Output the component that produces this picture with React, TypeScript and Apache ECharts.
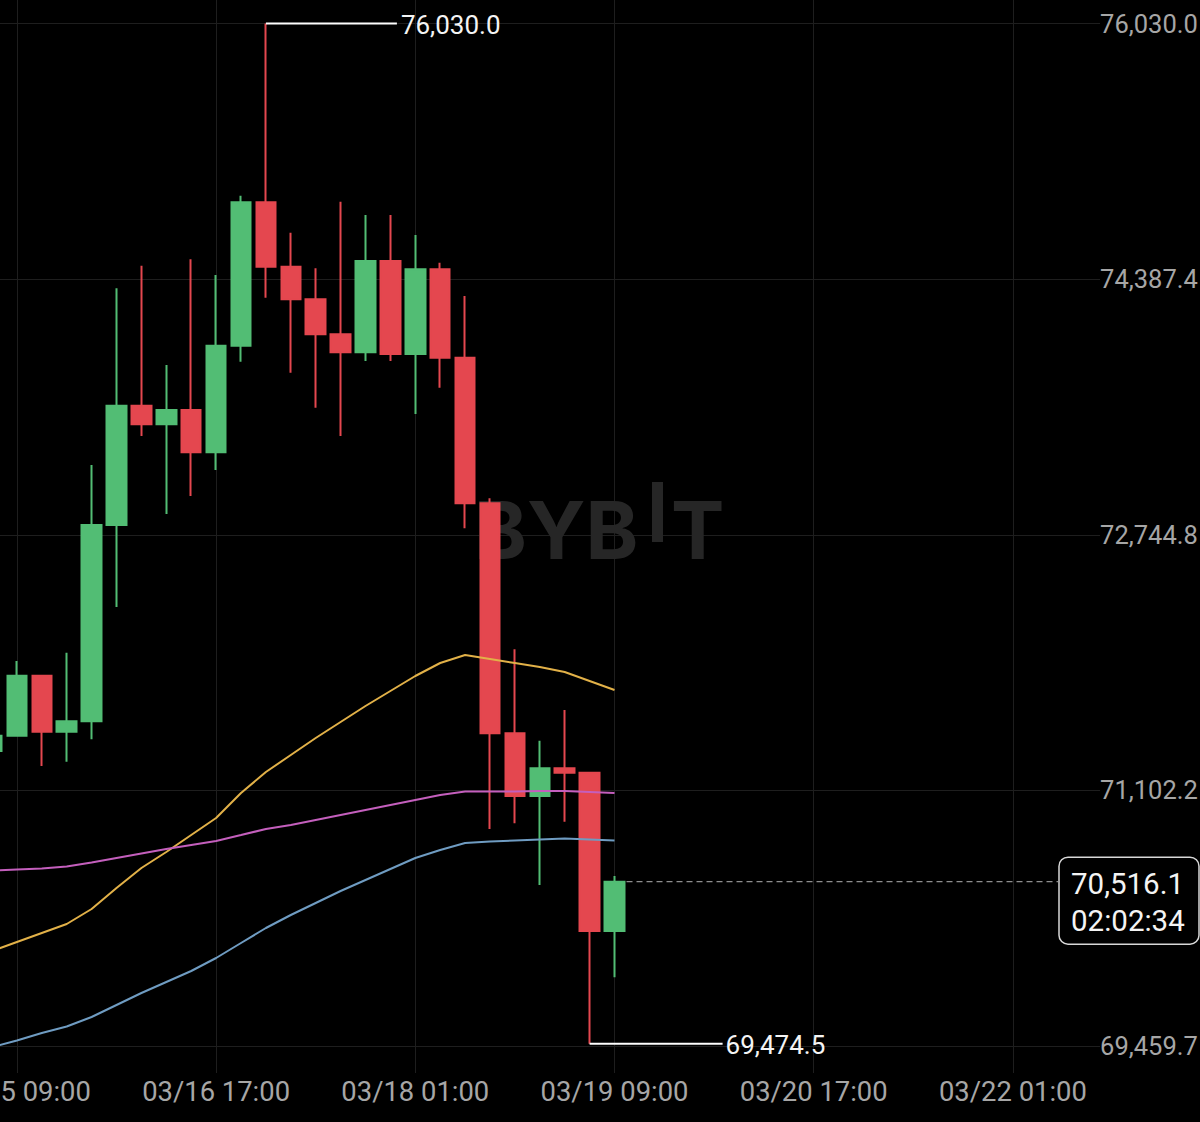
import React, { useEffect, useRef } from "react";
import * as echarts from "echarts";

// ---------- data ----------
const START_UTC = Date.UTC(2024, 2, 15, 5, 0); // first (partly hidden) candle: 03/15 05:00
const CANDLE_HOURS = 4;
const CATEGORY_COUNT = 45;

const opens = [
  71355.8, 71454.1, 71839.6, 71479.8, 71546.6, 72807.9, 73574.4, 73454.9, 73546.7,
  73275.0, 73959.9, 74881.2, 74467.4, 74258.0, 74033.1, 73917.5, 74504.1, 73906.5,
  74450.7, 73882.8, 72947.3, 71469.5, 71066.7, 71244.7, 71216.4, 70199.3,
];
const closes = [
  71454.1, 71839.6, 71479.8, 71546.6, 72807.9, 73574.4, 73454.9, 73546.7, 73275.0,
  73959.9, 74881.2, 74467.4, 74258.0, 74033.1, 73917.5, 74504.1, 73906.5, 74450.7,
  73882.8, 72947.3, 71469.5, 71066.7, 71244.7, 71216.4, 70199.3, 70516.1,
];
const lows = [
  71300.0, 71454.1, 71259.4, 71287.0, 71431.0, 72281.0, 73379.7, 72878.5, 72994.2,
  73161.2, 73857.1, 74268.3, 73786.4, 73561.5, 73379.7, 73861.6, 73861.6, 73521.0,
  73690.0, 72786.7, 70854.7, 70891.3, 70494.9, 70901.6, 69474.5, 69901.8,
];
const highs = [
  71480.0, 71934.0, 71839.6, 71987.4, 73193.4, 74328.7, 74473.9, 73835.9, 74515.0,
  74414.1, 74923.6, 76030.0, 74685.9, 74457.2, 74885.1, 74799.6, 74799.6, 74671.1,
  74493.1, 74279.2, 72979.4, 72009.2, 71422.0, 71619.2, 71216.4, 70552.7,
];

const maYellow = [
  70070.8, 70128.6, 70186.5, 70244.3, 70340.7, 70475.6, 70604.1, 70706.9, 70816.1,
  70925.3, 71086.0, 71220.9, 71330.1, 71439.3, 71542.1, 71644.9, 71741.3, 71837.7,
  71921.2, 71972.6, 71946.9, 71921.2, 71895.5, 71863.4, 71805.6, 71747.7,
];
const maPink = [
  70588.0, 70594.4, 70600.9, 70613.7, 70639.4, 70668.3, 70697.2, 70726.2, 70751.9,
  70777.6, 70816.1, 70854.7, 70880.4, 70912.5, 70944.6, 70976.7, 71008.9, 71041.0,
  71073.1, 71095.6, 71095.6, 71095.6, 71098.8, 71098.8, 71092.4, 71086.0,
];
const maBlue = [
  69454.0, 69495.8, 69544.0, 69585.7, 69646.8, 69723.9, 69801.0, 69871.6, 69942.3,
  70025.8, 70122.2, 70218.6, 70302.1, 70379.2, 70456.3, 70527.0, 70597.7, 70668.3,
  70719.7, 70764.7, 70774.3, 70780.8, 70787.2, 70793.6, 70787.2, 70780.8,
];

const yTicks = [76030.0, 74387.4, 72744.8, 71102.2, 69459.7];
const Y_MIN = 69287.0;
const Y_MAX = 76181.0;
const COUNTDOWN = "02:02:34";
const WATERMARK_LEFT = "BYB";
const WATERMARK_RIGHT = "T";

const pad2 = (n: number) => String(n).padStart(2, "0");
const categories: string[] = [];
for (let k = 0; k < CATEGORY_COUNT; k++) {
  const d = new Date(START_UTC + k * CANDLE_HOURS * 3600e3);
  categories.push(
    `${pad2(d.getUTCMonth() + 1)}/${pad2(d.getUTCDate())} ${pad2(d.getUTCHours())}:00`
  );
}

// ---------- style ----------
const GREEN = "#52bd74";
const RED = "#e4474f";
const YELLOW = "#e2b148";
const PINK = "#c45fbd";
const BLUE = "#6f9cc2";
const GRID = "#1e1e1e";
const AXIS_TEXT = "#a6a6a6";
const FONT = "Roboto";
const WM_FONT = "Inter";

const fmt = (v: number) =>
  Number(v).toLocaleString("en-US", { minimumFractionDigits: 1, maximumFractionDigits: 1 });

const labelEvery = (i: number) => (i - 1) % 8 === 0;

export default function App() {
  const ref = useRef<HTMLDivElement>(null);

  useEffect(() => {
    if (!ref.current) return;
    const chart = echarts.init(ref.current, undefined, { renderer: "svg" });

    const candleData = opens.map((o, i) => [o, closes[i], lows[i], highs[i]]);

    chart.setOption({
      animation: false,
      backgroundColor: "#000000",
      grid: {
        left: -20.45,
        right: 99.95,
        top: 0,
        bottom: 49,
        containLabel: false,
        outerBoundsMode: "none",
      },
      xAxis: {
        type: "category",
        data: categories,
        boundaryGap: true,
        axisLine: { show: false },
        axisTick: { show: false, interval: labelEvery, alignWithLabel: true },
        axisLabel: {
          interval: labelEvery,
          color: AXIS_TEXT,
          fontSize: 27.4,
          fontFamily: FONT,
          margin: 5,
          hideOverlap: false,
        },
        splitLine: {
          show: true,
          interval: labelEvery,
          alignWithLabel: true,
          lineStyle: { color: GRID, width: 1 },
        },
      },
      yAxis: {
        type: "value",
        position: "right",
        min: Y_MIN,
        max: Y_MAX,
        axisLine: { show: false },
        axisTick: { show: false, customValues: yTicks },
        axisLabel: {
          customValues: yTicks,
          formatter: (v: number) => fmt(v),
          color: AXIS_TEXT,
          fontSize: 25.5,
          fontFamily: FONT,
          margin: 0,
          showMinLabel: true,
          showMaxLabel: true,
        },
        splitLine: { show: true, lineStyle: { color: GRID, width: 1 } },
      },
      series: [
        {
          type: "candlestick",
          data: candleData,
          barWidth: 20,
          clip: true,
          itemStyle: {
            color: GREEN,
            color0: RED,
            borderColor: GREEN,
            borderColor0: RED,
            borderWidth: 2,
          },
          z: 3,
        },
        {
          type: "line",
          data: maYellow,
          showSymbol: false,
          symbol: "none",
          lineStyle: { color: YELLOW, width: 2 },
          z: 4,
        },
        {
          type: "line",
          data: maPink,
          showSymbol: false,
          symbol: "none",
          lineStyle: { color: PINK, width: 2 },
          z: 4,
        },
        {
          type: "line",
          data: maBlue,
          showSymbol: false,
          symbol: "none",
          lineStyle: { color: BLUE, width: 2 },
          z: 4,
        },
      ],
    });

    const px = (idx: number, v: number) =>
      chart.convertToPixel({ xAxisIndex: 0, yAxisIndex: 0 }, [idx, v]) as number[];

    let hiIdx = 0;
    let loIdx = 0;
    highs.forEach((h, i) => {
      if (h > highs[hiIdx]) hiIdx = i;
    });
    lows.forEach((l, i) => {
      if (l < lows[loIdx]) loIdx = i;
    });
    const last = closes.length - 1;
    const [hx, hy] = px(hiIdx, highs[hiIdx]);
    const [lx, ly] = px(loIdx, lows[loIdx]);
    const [cx, cy] = px(last, closes[last]);

    const wmColor = "#262626";
    const wmFont = `bold 80px ${WM_FONT}`;
    const wmText = (t: string, x: number) => ({
      type: "text",
      x,
      y: 529,
      z: 1,
      silent: true,
      style: {
        text: t,
        fill: wmColor,
        font: wmFont,
        align: "left",
        verticalAlign: "middle",
        textAlign: "left",
        textVerticalAlign: "middle",
      },
    });
    const label = (t: string, x: number, y: number, size: number, color: string) => ({
      type: "text",
      x,
      y,
      z: 20,
      style: {
        text: t,
        fill: color,
        font: `${size}px ${FONT}`,
        align: "left",
        verticalAlign: "middle",
        textAlign: "left",
        textVerticalAlign: "middle",
      },
    });

    chart.setOption({
      graphic: {
        elements: [
          wmText(WATERMARK_LEFT, 474),
          {
            type: "rect",
            z: 1,
            silent: true,
            shape: { x: 652, y: 482, width: 11, height: 60 },
            style: { fill: wmColor },
          },
          wmText(WATERMARK_RIGHT, 671),
          {
            type: "line",
            z: 20,
            shape: { x1: hx, y1: hy, x2: hx + 131, y2: hy },
            style: { stroke: "#ffffff", lineWidth: 2 },
          },
          label(fmt(highs[hiIdx]), hx + 135, hy + 1.5, 26, "#f4f4f4"),
          {
            type: "line",
            z: 20,
            shape: { x1: lx, y1: ly, x2: lx + 133, y2: ly },
            style: { stroke: "#ffffff", lineWidth: 2 },
          },
          label(fmt(lows[loIdx]), lx + 136, ly + 1.5, 26, "#f4f4f4"),
          {
            type: "line",
            z: 20,
            shape: { x1: cx + 12, y1: cy, x2: 1058, y2: cy },
            style: { stroke: "#8e8e8e", lineWidth: 1.2, lineDash: [6, 4] },
          },
          {
            type: "rect",
            z: 20,
            shape: { x: 1059, y: cy - 24.5, width: 140, height: 87, r: 9 },
            style: { fill: "#000000", stroke: "#d8d8d8", lineWidth: 1.5 },
          },
          label(fmt(closes[last]), 1071, cy + 2.5, 29.5, "#f4f4f4"),
          label(COUNTDOWN, 1071, cy + 39.5, 29.5, "#f4f4f4"),
        ],
      },
    });

    return () => chart.dispose();
  }, []);

  return (
    <div
      ref={ref}
      style={{
        position: "fixed",
        left: 0,
        top: 0,
        width: 1200,
        height: 1122,
        background: "#000",
      }}
    />
  );
}
